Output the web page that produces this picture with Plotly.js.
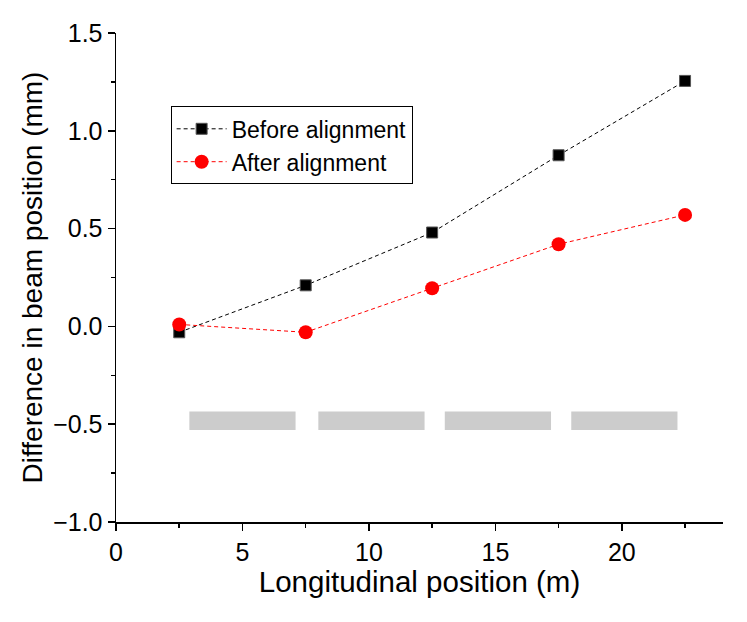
<!DOCTYPE html>
<html>
<head>
<meta charset="utf-8">
<script src="https://cdn.plot.ly/plotly-3.0.1.min.js"></script>
<style>
  html, body { margin: 0; padding: 0; background: #fff; }
  #chart { width: 747px; height: 622px; }
</style>
</head>
<body>
<div id="chart"></div>
<script>
// longitudinal positions of the BPMs (m)
const positions = [2.5, 7.5, 12.5, 17.5, 22.5];
const beforeAlign = [-0.03, 0.21, 0.48, 0.875, 1.255];
const afterAlign = [0.01, -0.03, 0.195, 0.42, 0.57];

// grey blocks (magnet sections) along the beamline
const blockStart = [2.9, 8.0, 13.0, 18.0];
const blockEnd = [7.1, 12.2, 17.2, 22.2];
const blockLow = -0.53;
const blockHigh = -0.435;

const FONT = 'Liberation Sans, Arial, sans-serif';

const traces = [
    {
        x: positions,
        y: beforeAlign,
        name: 'Before alignment',
        mode: 'lines+markers',
        type: 'scatter',
        line: { color: '#000', width: 1, dash: '4px,3px' },
        marker: { symbol: 'square', size: 11, color: '#000', line: { color: '#555', width: 1 } },
    },
    {
        x: positions,
        y: afterAlign,
        name: 'After alignment',
        mode: 'lines+markers',
        type: 'scatter',
        line: { color: '#ff0000', width: 1, dash: '4px,3px' },
        marker: { symbol: 'circle', size: 14, color: '#ff0000' },
    },
];

const shapes = blockStart.map((x0, i) => ({
    type: 'rect',
    xref: 'x', yref: 'y',
    x0: x0, x1: blockEnd[i],
    y0: blockLow, y1: blockHigh,
    fillcolor: '#cccccc',
    line: { width: 0 },
    layer: 'below',
}));

const layout = {
    width: 747,
    height: 622,
    margin: { l: 116, r: 24, t: 33, b: 100 },
    paper_bgcolor: '#fff',
    plot_bgcolor: '#fff',
    font: { family: FONT, size: 25, color: '#000' },
    showlegend: true,
    legend: {
        x: 0.09, y: 0.85,
        xanchor: 'left', yanchor: 'top',
        bordercolor: '#000', borderwidth: 1,
        bgcolor: '#fff',
        font: { family: FONT, size: 23 },
        itemwidth: 50,
        tracegroupgap: 0,
    },
    xaxis: {
        range: [0, 24],
        tickvals: [0, 5, 10, 15, 20],
        showgrid: false,
        zeroline: false,
        showline: true,
        linecolor: '#000',
        linewidth: 1.5,
        ticks: 'outside',
        ticklen: 7,
        tickwidth: 1.5,
        tickcolor: '#000',
        tickfont: { family: FONT, size: 25 },
        minor: { tickvals: [2.5, 7.5, 12.5, 17.5, 22.5], ticklen: 4, tickwidth: 1.5, tickcolor: '#000', ticks: 'outside', showgrid: false },
        title: { text: 'Longitudinal position (m)', font: { family: FONT, size: 29.5 }, standoff: 4 },
    },
    yaxis: {
        range: [-1.0, 1.5],
        tickvals: [-1.0, -0.5, 0.0, 0.5, 1.0, 1.5],
        tickformat: '.1f',
        showgrid: false,
        zeroline: false,
        showline: true,
        linecolor: '#000',
        linewidth: 1.5,
        ticks: 'outside',
        ticklen: 7,
        tickwidth: 1.5,
        tickcolor: '#000',
        tickfont: { family: FONT, size: 25 },
        minor: { tickvals: [-0.75, -0.25, 0.25, 0.75, 1.25], ticklen: 4, tickwidth: 1.5, tickcolor: '#000', ticks: 'outside', showgrid: false },
        title: { text: 'Difference in beam position (mm)', font: { family: FONT, size: 28 }, standoff: 2 },
    },
    shapes: shapes,
};

Plotly.newPlot('chart', traces, layout, { displayModeBar: false, staticPlot: true });
</script>
</body>
</html>
